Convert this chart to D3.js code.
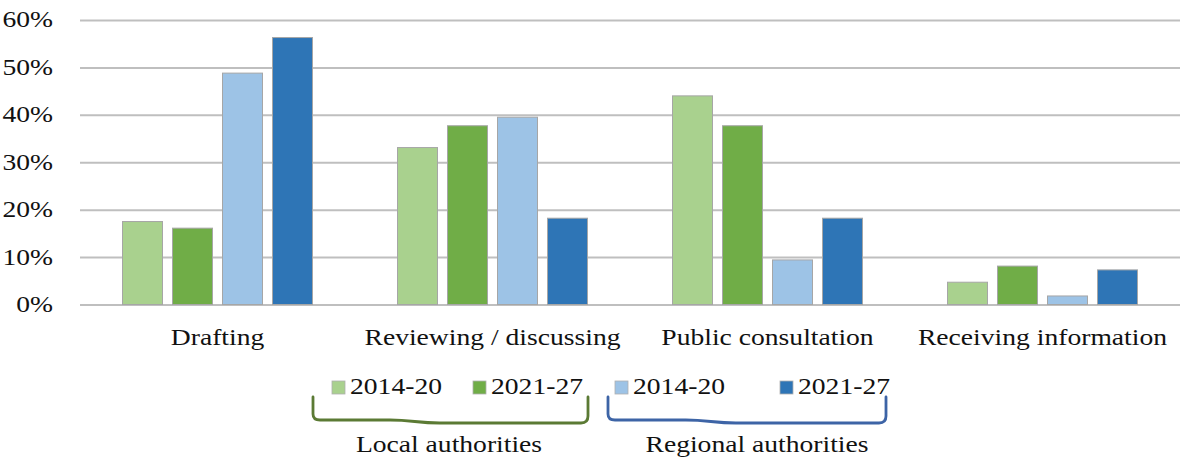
<!DOCTYPE html>
<html>
<head>
<meta charset="utf-8">
<script src="https://cdn.jsdelivr.net/npm/d3@7"></script>
<style>
  html, body { margin: 0; padding: 0; background: #fff; }
  svg text { font-family: "Liberation Serif", "Times New Roman", serif; fill: #111; }
</style>
</head>
<body>
<svg id="chart" width="1184" height="463"></svg>
<script>
// ---- data ----
const categories = ["Drafting", "Reviewing / discussing", "Public consultation", "Receiving information"];
const seriesKeys = ["local1420", "local2127", "regional1420", "regional2127"];
const seriesLabels = ["2014-20", "2021-27", "2014-20", "2021-27"];
const groupLabels = ["Local authorities", "Regional authorities"];
const local1420 = [0.175, 0.331, 0.440, 0.047];
const local2127 = [0.161, 0.377, 0.377, 0.081];
const regional1420 = [0.488, 0.395, 0.094, 0.018];
const regional2127 = [0.563, 0.182, 0.182, 0.073];
const yTicks = [0, 0.1, 0.2, 0.3, 0.4, 0.5, 0.6];
const colors = ["#a9d18e", "#70ad47", "#9dc3e6", "#2e75b6"];
const braceColors = ["#5b7a34", "#3d64a6"];

const values = { local1420, local2127, regional1420, regional2127 };
const rows = categories.map((c, i) => ({ category: c, vals: seriesKeys.map(k => ({ key: k, v: values[k][i] })) }));

// ---- layout ----
const svg = d3.select("#chart");
const plotLeft = 80, plotRight = 1180, plotTop = 20, plotBottom = 304.5;
const SX = 1.15; // horizontal text stretch of the original
const FS = 24;
const FONT = "'Liberation Serif', 'Times New Roman', serif";

const x0 = d3.scaleBand().domain(categories).range([plotLeft, plotRight]).paddingInner(0).paddingOuter(0);
const x1 = d3.scaleBand().domain(seriesKeys).range([0, x0.bandwidth()]).paddingInner(0.2).paddingOuter(0.85);
const y = d3.scaleLinear().domain([0, 0.6]).range([plotBottom, plotTop]);
const color = d3.scaleOrdinal().domain(seriesKeys).range(colors);

// gridlines + y labels via axis
const yAxis = d3.axisLeft(y).tickValues(yTicks).tickFormat(d3.format(".0%"))
  .tickSize(-(plotRight - plotLeft)).tickPadding(0);
const gy = svg.append("g").attr("transform", `translate(${plotLeft},0)`).call(yAxis);
gy.select(".domain").remove();
gy.selectAll(".tick line").attr("stroke", "#bfbfbf").attr("stroke-width", 2);
gy.selectAll(".tick text")
  .attr("x", -27 / SX).attr("dy", "0.29em")
  .attr("text-anchor", "end")
  .attr("transform", `scale(${SX},1)`)
  .style("font-size", FS + "px")
  .style("font-family", FONT)
  .attr("fill", "#111");

// bars
const groups = svg.append("g").selectAll("g").data(rows).join("g")
  .attr("transform", d => `translate(${x0(d.category)},0)`);
groups.selectAll("rect").data(d => d.vals).join("rect")
  .attr("x", d => x1(d.key))
  .attr("width", x1.bandwidth())
  .attr("y", d => y(d.v))
  .attr("height", d => y(0) - y(d.v))
  .attr("fill", d => color(d.key))
  .attr("stroke", "#a6a6a6")
  .attr("stroke-width", 1);

// x axis labels
const xAxis = d3.axisBottom(x0).tickSize(0).tickPadding(0);
const gx = svg.append("g").attr("transform", `translate(0,${plotBottom})`).call(xAxis);
gx.select(".domain").remove();
gx.selectAll(".tick text")
  .attr("y", 41).attr("dy", 0)
  .attr("transform", `scale(${SX},1)`)
  .style("font-size", FS + "px")
  .style("font-family", FONT)
  .attr("fill", "#111");

// legend
const legendX = [332, 473, 615, 780];
const legendBaseline = 394;
const lg = svg.append("g");
seriesKeys.forEach((k, i) => {
  lg.append("rect")
    .attr("x", legendX[i]).attr("y", legendBaseline - 13)
    .attr("width", 13).attr("height", 13)
    .attr("fill", color(k)).attr("stroke", "#b0b0b0").attr("stroke-width", 0.8);
  lg.append("text")
    .attr("transform", `translate(${legendX[i] + 18},${legendBaseline}) scale(${SX},1)`)
    .style("font-size", FS + "px")
    .text(seriesLabels[i]);
});

// braces
const braces = [[313, 588], [608, 886]];
const bTop = 397, bBot = 420;
braces.forEach(([a, b], i) => {
  const w = b - a;
  const p = d3.path();
  p.moveTo(a, bTop);
  p.lineTo(a, bBot - 6);
  p.quadraticCurveTo(a, bBot, a + 7, bBot);
  p.lineTo(a + w * 0.28, bBot);
  p.bezierCurveTo(a + w * 0.36, bBot, a + w * 0.38, bBot + 3, a + w * 0.46, bBot + 3);
  p.lineTo(b - 7, bBot + 3);
  p.quadraticCurveTo(b, bBot + 3, b, bBot - 4);
  p.lineTo(b, bTop);
  svg.append("path").attr("d", p.toString())
    .attr("fill", "none").attr("stroke", braceColors[i])
    .attr("stroke-width", 2.8).attr("stroke-linecap", "round").attr("stroke-linejoin", "round");
  svg.append("text")
    .attr("transform", `translate(${i === 0 ? 449 : 757},452) scale(${SX},1)`)
    .attr("text-anchor", "middle")
    .style("font-size", FS + "px")
    .text(groupLabels[i]);
});
</script>
</body>
</html>
